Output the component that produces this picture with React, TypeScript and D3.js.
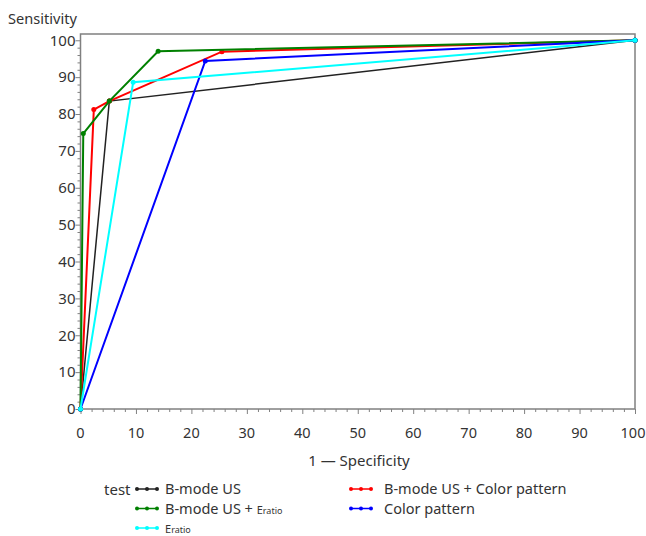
import React, { useEffect, useRef } from "react";
import * as d3 from "d3";

// ROC points: [1 - specificity, sensitivity]
const bModeUS = [[0, 0], [5.2, 83.5], [100, 100]];
const bModeUSColor = [[0, 0], [2.4, 81.2], [5.2, 83.5], [25.5, 96.9], [100, 100]];
const bModeUSEratio = [[0, 0], [0.5, 74.7], [5.2, 83.5], [14, 97], [100, 100]];
const colorPattern = [[0, 0], [22.5, 94.4], [100, 100]];
const eratio = [[0, 0], [9.5, 88.6], [100, 100]];

const seriesNames = ["B-mode US", "B-mode US + Color pattern", "B-mode US + Eratio", "Color pattern", "Eratio"];
const seriesColors = ["#222222", "#ff0000", "#008000", "#0000ff", "#00ffff"];
const seriesData = [bModeUS, bModeUSColor, bModeUSEratio, colorPattern, eratio];

const xTicks = [0, 10, 20, 30, 40, 50, 60, 70, 80, 90, 100];
const yTicks = [0, 10, 20, 30, 40, 50, 60, 70, 80, 90, 100];

const FONT = "'Noto Sans', sans-serif";

export default function App() {
  const ref = useRef<SVGSVGElement>(null);

  useEffect(() => {
    const svg = d3.select(ref.current);
    svg.selectAll("*").remove();

    const m = { left: 80.5, right: 635, top: 34, bottom: 409 };

    const x = d3.scaleLinear().domain([0, 100]).range([m.left, m.right]);
    const y = d3.scaleLinear().domain([0, 101.7]).range([m.bottom, m.top]);

    const ink = "#333";
    const frame = "#808080";

    // axes (minor ticks every 2, major every 10)
    const xAxis = d3
      .axisBottom(x)
      .tickValues(d3.range(0, 101, 2))
      .tickSize(4)
      .tickFormat(() => "");
    const gx = svg.append("g").attr("transform", `translate(0,${m.bottom})`).call(xAxis);
    gx.selectAll("line").attr("stroke", frame).attr("y2", (d: any) => (d % 10 === 0 ? 5 : 3));
    gx.select(".domain").remove();

    const yAxis = d3
      .axisLeft(y)
      .tickValues(d3.range(0, 101, 2))
      .tickSize(4)
      .tickFormat(() => "");
    const gy = svg.append("g").attr("transform", `translate(${m.left},0)`).call(yAxis);
    gy.selectAll("line").attr("stroke", frame).attr("x2", (d: any) => (d % 10 === 0 ? -5 : -3));
    gy.select(".domain").remove();

    svg
      .append("g")
      .selectAll("text")
      .data(xTicks)
      .join("text")
      .attr("x", (d) => (d === 100 ? x(d) - 2 : x(d)))
      .attr("y", 438)
      .attr("text-anchor", "middle")
      .attr("font-family", FONT)
      .attr("font-size", 14.5)
      .attr("fill", ink)
      .text((d) => d);

    svg
      .append("g")
      .selectAll("text")
      .data(yTicks)
      .join("text")
      .attr("x", m.left - 5)
      .attr("y", (d) => y(d))
      .attr("dy", "0.35em")
      .attr("text-anchor", "end")
      .attr("font-family", FONT)
      .attr("font-size", 15)
      .attr("fill", ink)
      .text((d) => d);

    // frame
    svg
      .append("rect")
      .attr("x", m.left)
      .attr("y", m.top)
      .attr("width", m.right - m.left)
      .attr("height", m.bottom - m.top)
      .attr("fill", "none")
      .attr("stroke", frame)
      .attr("stroke-width", 1.5);

    // axis titles
    svg
      .append("text")
      .attr("x", 8)
      .attr("y", 24)
      .attr("font-family", FONT)
      .attr("font-size", 14.6)
      .attr("fill", ink)
      .text("Sensitivity");

    svg
      .append("text")
      .attr("x", 359)
      .attr("y", 466)
      .attr("text-anchor", "middle")
      .attr("font-family", FONT)
      .attr("font-size", 15)
      .attr("fill", ink)
      .text("1 \u2014 Specificity");

    // lines
    const line = d3
      .line<number[]>()
      .x((d) => x(d[0]))
      .y((d) => y(d[1]));

    seriesData.forEach((data, i) => {
      svg
        .append("path")
        .attr("d", line(data))
        .attr("fill", "none")
        .attr("stroke", seriesColors[i])
        .attr("stroke-width", i === 0 ? 1.5 : 2);
      svg
        .append("g")
        .selectAll("circle")
        .data(data)
        .join("circle")
        .attr("cx", (d) => x(d[0]))
        .attr("cy", (d) => y(d[1]))
        .attr("r", 2.5)
        .attr("fill", seriesColors[i]);
    });

    // legend, row-major in two columns
    svg
      .append("text")
      .attr("x", 104)
      .attr("y", 495)
      .attr("font-family", FONT)
      .attr("font-size", 15)
      .attr("fill", ink)
      .text("test");

    seriesNames.forEach((name, i) => {
      const col = i % 2;
      const row = Math.floor(i / 2);
      const sx = col === 0 ? 137 : 351;
      const cy = 489 + row * 19.5;
      const g = svg.append("g");
      g.append("line")
        .attr("x1", sx)
        .attr("x2", sx + 20)
        .attr("y1", cy)
        .attr("y2", cy)
        .attr("stroke", seriesColors[i])
        .attr("stroke-width", 1.5);
      [0, 10, 20].forEach((o) =>
        g.append("circle").attr("cx", sx + o).attr("cy", cy).attr("r", 2).attr("fill", seriesColors[i])
      );
      const t = g
        .append("text")
        .attr("x", sx + (col === 0 ? 28 : 33))
        .attr("y", cy + 5)
        .attr("font-family", FONT)
        .attr("font-size", 14.5)
        .attr("fill", ink);
      if (name.endsWith("Eratio")) {
        const head = name.slice(0, name.length - 6);
        if (head) t.append("tspan").text(head);
        t.append("tspan").attr("font-size", 11).text("E");
        t.append("tspan").attr("font-size", 9).text("ratio");
      } else {
        t.text(name);
      }
    });
  }, []);

  return (
    <svg
      ref={ref}
      width={646}
      height={536}
      style={{ display: "block", position: "absolute", left: 0, top: 0 }}
    />
  );
}
